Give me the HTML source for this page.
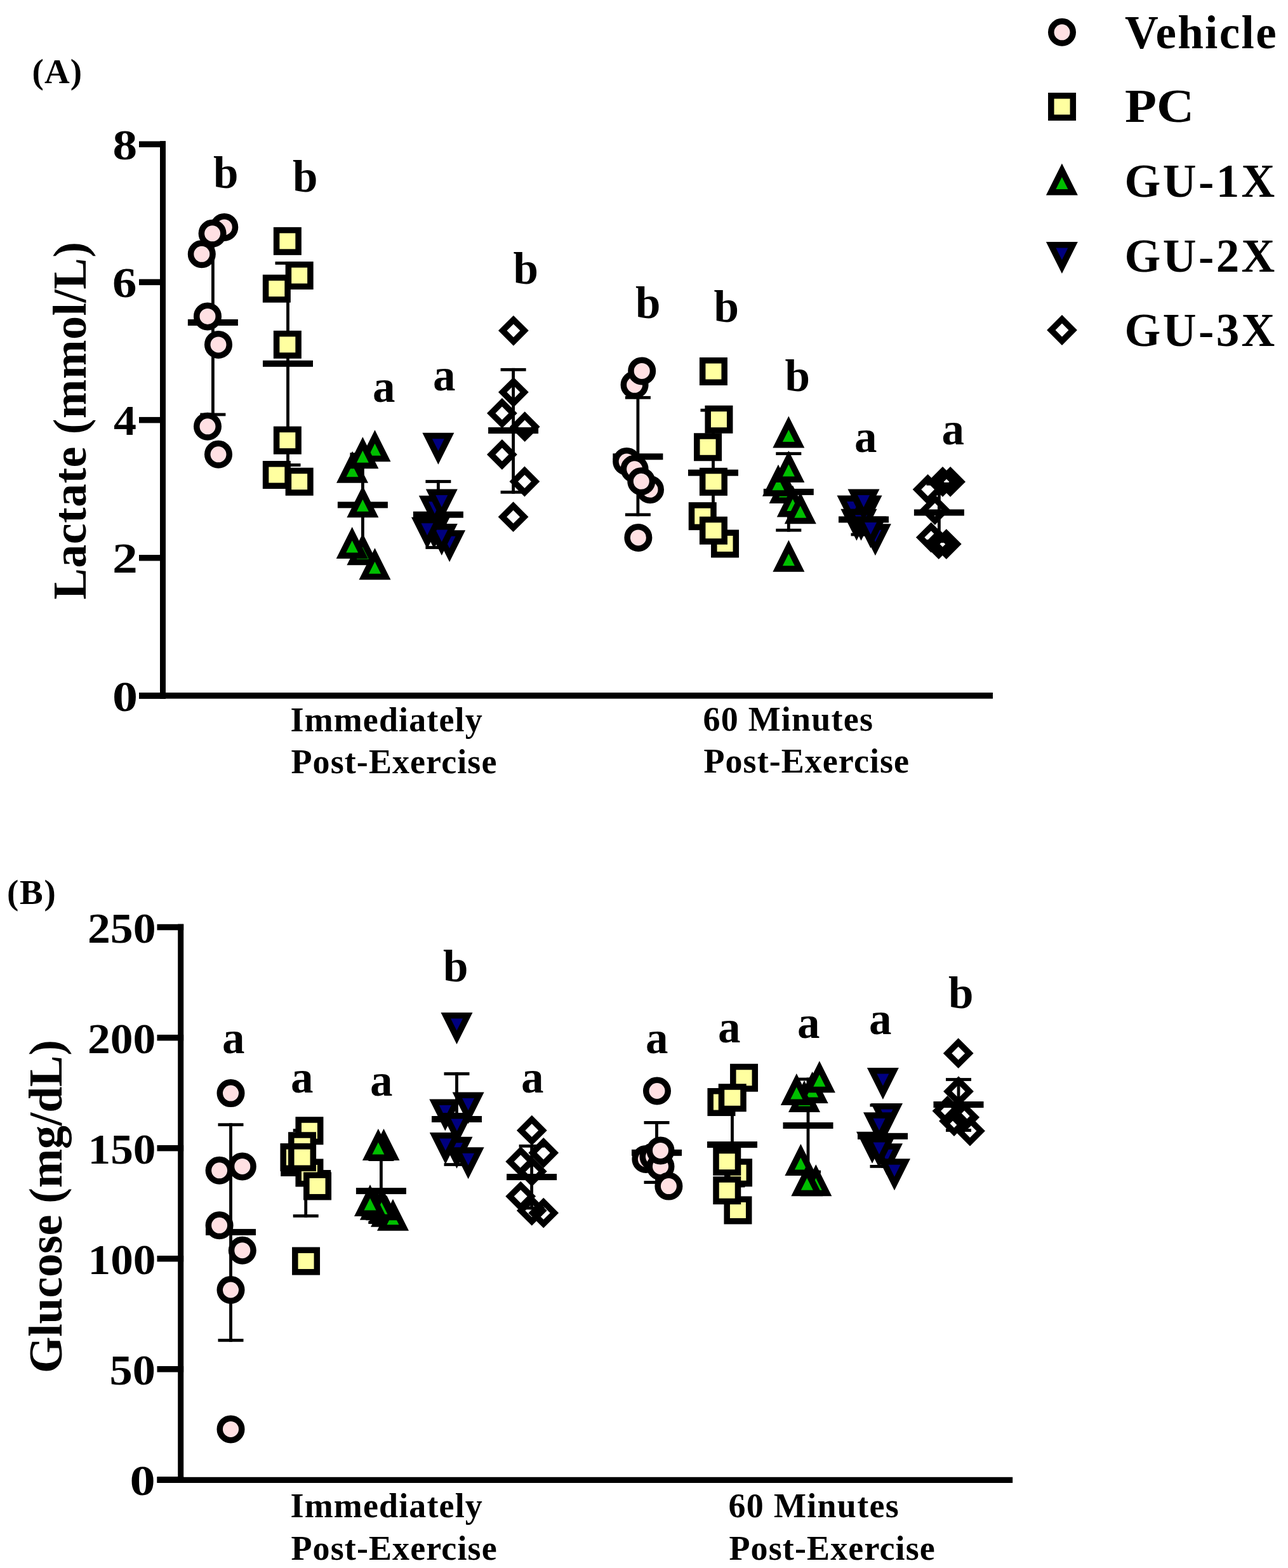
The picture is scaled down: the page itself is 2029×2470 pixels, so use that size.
<!DOCTYPE html>
<html><head><meta charset="utf-8"><title>Lactate and Glucose</title>
<style>
html,body{margin:0;padding:0;background:#fff;}
svg{display:block;}
text{font-family:"Liberation Serif","Times New Roman",serif;font-weight:bold;fill:#000;}
</style></head><body>
<svg width="2029" height="2470" viewBox="0 0 2029 2470">
<rect width="2029" height="2470" fill="#fff"/>
<rect x="252.0" y="222.2" width="9.0" height="878.6" fill="#000"/>
<rect x="219.0" y="222.5" width="42.0" height="9.5" fill="#000"/>
<rect x="219.0" y="439.7" width="42.0" height="9.5" fill="#000"/>
<rect x="219.0" y="656.9" width="42.0" height="9.5" fill="#000"/>
<rect x="219.0" y="874.0" width="42.0" height="9.5" fill="#000"/>
<rect x="219.0" y="1091.2" width="42.0" height="9.5" fill="#000"/>
<rect x="219.0" y="1091.0" width="1345.0" height="9.6" fill="#000"/>
<rect x="280.2" y="1455.6" width="9.0" height="880.4" fill="#000"/>
<rect x="247.5" y="1455.8" width="41.7" height="9.5" fill="#000"/>
<rect x="247.5" y="1629.9" width="41.7" height="9.5" fill="#000"/>
<rect x="247.5" y="1803.9" width="41.7" height="9.5" fill="#000"/>
<rect x="247.5" y="1978.0" width="41.7" height="9.5" fill="#000"/>
<rect x="247.5" y="2152.0" width="41.7" height="9.5" fill="#000"/>
<rect x="247.5" y="2326.1" width="41.7" height="9.5" fill="#000"/>
<rect x="247.5" y="2326.8" width="1347.7" height="9.2" fill="#000"/>
<rect x="333.0" y="360.6" width="4.8" height="294.8" fill="#000"/>
<rect x="315.4" y="360.6" width="40.0" height="4.8" fill="#000"/>
<rect x="315.4" y="650.6" width="40.0" height="4.8" fill="#000"/>
<rect x="295.9" y="503.0" width="79.0" height="10.0" fill="#000"/>
<circle cx="353.3" cy="357.9" r="17.25" fill="#FFE0E3" stroke="#000" stroke-width="9.5"/>
<circle cx="334.6" cy="367.8" r="17.25" fill="#FFE0E3" stroke="#000" stroke-width="9.5"/>
<circle cx="317.8" cy="400.3" r="17.25" fill="#FFE0E3" stroke="#000" stroke-width="9.5"/>
<circle cx="327.0" cy="498.4" r="17.25" fill="#FFE0E3" stroke="#000" stroke-width="9.5"/>
<circle cx="344.0" cy="542.9" r="17.25" fill="#FFE0E3" stroke="#000" stroke-width="9.5"/>
<circle cx="327.0" cy="671.8" r="17.25" fill="#FFE0E3" stroke="#000" stroke-width="9.5"/>
<circle cx="344.0" cy="715.8" r="17.25" fill="#FFE0E3" stroke="#000" stroke-width="9.5"/>
<rect x="451.1" y="412.1" width="4.8" height="322.8" fill="#000"/>
<rect x="433.5" y="412.1" width="40.0" height="4.8" fill="#000"/>
<rect x="433.5" y="730.1" width="40.0" height="4.8" fill="#000"/>
<rect x="414.0" y="567.8" width="79.0" height="10.0" fill="#000"/>
<rect x="435.6" y="362.6" width="34.5" height="34.5" fill="#FFFFA0" stroke="#000" stroke-width="9.5"/>
<rect x="454.4" y="416.8" width="34.5" height="34.5" fill="#FFFFA0" stroke="#000" stroke-width="9.5"/>
<rect x="418.6" y="437.4" width="34.5" height="34.5" fill="#FFFFA0" stroke="#000" stroke-width="9.5"/>
<rect x="435.6" y="525.6" width="34.5" height="34.5" fill="#FFFFA0" stroke="#000" stroke-width="9.5"/>
<rect x="435.6" y="676.4" width="34.5" height="34.5" fill="#FFFFA0" stroke="#000" stroke-width="9.5"/>
<rect x="418.6" y="730.8" width="34.5" height="34.5" fill="#FFFFA0" stroke="#000" stroke-width="9.5"/>
<rect x="454.4" y="741.5" width="34.5" height="34.5" fill="#FFFFA0" stroke="#000" stroke-width="9.5"/>
<rect x="569.0" y="713.2" width="4.8" height="164.6" fill="#000"/>
<rect x="551.4" y="713.2" width="40.0" height="4.8" fill="#000"/>
<rect x="551.4" y="873.0" width="40.0" height="4.8" fill="#000"/>
<rect x="531.9" y="790.4" width="79.0" height="10.0" fill="#000"/>
<polygon points="571.4,840.3 596.4,890.3 546.4,890.3" fill="#000"/><polygon points="571.4,861.8 580.9,880.8 561.9,880.8" fill="#00BF00"/>
<polygon points="590.5,677.2 615.5,727.2 565.5,727.2" fill="#000"/><polygon points="590.5,698.7 600.0,717.7 581.0,717.7" fill="#00BF00"/>
<polygon points="555.0,710.8 580.0,760.8 530.0,760.8" fill="#000"/><polygon points="555.0,732.3 564.5,751.3 545.5,751.3" fill="#00BF00"/>
<polygon points="571.4,688.2 596.4,738.2 546.4,738.2" fill="#000"/><polygon points="571.4,709.7 580.9,728.7 561.9,728.7" fill="#00BF00"/>
<polygon points="571.4,765.3 596.4,815.3 546.4,815.3" fill="#000"/><polygon points="571.4,786.8 580.9,805.8 561.9,805.8" fill="#00BF00"/>
<polygon points="554.7,830.1 579.7,880.1 529.7,880.1" fill="#000"/><polygon points="554.7,851.6 564.2,870.6 545.2,870.6" fill="#00BF00"/>
<polygon points="590.5,863.3 615.5,913.3 565.5,913.3" fill="#000"/><polygon points="590.5,884.8 600.0,903.8 581.0,903.8" fill="#00BF00"/>
<rect x="688.0" y="756.1" width="4.8" height="108.8" fill="#000"/>
<rect x="670.4" y="756.1" width="40.0" height="4.8" fill="#000"/>
<rect x="670.4" y="860.1" width="40.0" height="4.8" fill="#000"/>
<rect x="650.9" y="805.7" width="79.0" height="10.0" fill="#000"/>
<polygon points="665.4,681.8 715.4,681.8 690.4,731.8" fill="#000"/><polygon points="680.9,691.3 699.9,691.3 690.4,710.3" fill="#000080"/>
<polygon points="659.8,780.7 709.8,780.7 684.8,830.7" fill="#000"/><polygon points="675.3,790.2 694.3,790.2 684.8,809.2" fill="#000080"/>
<polygon points="670.8,770.5 720.8,770.5 695.8,820.5" fill="#000"/><polygon points="686.3,780.0 705.3,780.0 695.8,799.0" fill="#000080"/>
<polygon points="658.8,814.5 708.8,814.5 683.8,864.5" fill="#000"/><polygon points="674.2,824.0 693.2,824.0 683.8,843.0" fill="#000080"/>
<polygon points="683.1,835.2 733.1,835.2 708.1,885.2" fill="#000"/><polygon points="698.6,844.7 717.6,844.7 708.1,863.7" fill="#000080"/>
<polygon points="670.8,825.0 720.8,825.0 695.8,875.0" fill="#000"/><polygon points="686.3,834.5 705.3,834.5 695.8,853.5" fill="#000080"/>
<polygon points="648.0,814.8 698.0,814.8 673.0,864.8" fill="#000"/><polygon points="663.5,824.3 682.5,824.3 673.0,843.3" fill="#000080"/>
<rect x="806.2" y="579.9" width="4.8" height="197.8" fill="#000"/>
<rect x="788.6" y="579.9" width="40.0" height="4.8" fill="#000"/>
<rect x="788.6" y="772.9" width="40.0" height="4.8" fill="#000"/>
<rect x="769.1" y="673.1" width="79.0" height="10.0" fill="#000"/>
<path d="M808.9,496.9L832.8,520.8L808.9,544.7L785.0,520.8ZM808.9,510.4L798.5,520.8L808.9,531.2L819.3,520.8Z" fill="#000" fill-rule="evenodd"/>
<path d="M808.9,593.9L832.8,617.8L808.9,641.7L785.0,617.8ZM808.9,607.4L798.5,617.8L808.9,628.2L819.3,617.8Z" fill="#000" fill-rule="evenodd"/>
<path d="M790.9,627.0L814.8,650.9L790.9,674.8L767.0,650.9ZM790.9,640.5L780.5,650.9L790.9,661.3L801.3,650.9Z" fill="#000" fill-rule="evenodd"/>
<path d="M826.7,648.3L850.6,672.2L826.7,696.1L802.8,672.2ZM826.7,661.8L816.3,672.2L826.7,682.6L837.1,672.2Z" fill="#000" fill-rule="evenodd"/>
<path d="M790.9,692.1L814.8,716.0L790.9,739.9L767.0,716.0ZM790.9,705.6L780.5,716.0L790.9,726.4L801.3,716.0Z" fill="#000" fill-rule="evenodd"/>
<path d="M826.4,734.6L850.3,758.5L826.4,782.4L802.5,758.5ZM826.4,748.1L816.0,758.5L826.4,768.9L836.8,758.5Z" fill="#000" fill-rule="evenodd"/>
<path d="M808.6,790.3L832.5,814.2L808.6,838.1L784.7,814.2ZM808.6,803.8L798.2,814.2L808.6,824.6L819.0,814.2Z" fill="#000" fill-rule="evenodd"/>
<rect x="1002.5" y="623.9" width="4.8" height="189.3" fill="#000"/>
<rect x="984.9" y="623.9" width="40.0" height="4.8" fill="#000"/>
<rect x="984.9" y="808.4" width="40.0" height="4.8" fill="#000"/>
<rect x="965.4" y="714.3" width="79.0" height="10.0" fill="#000"/>
<circle cx="999.6" cy="606.3" r="17.25" fill="#FFE0E3" stroke="#000" stroke-width="9.5"/>
<circle cx="1011.2" cy="584.4" r="17.25" fill="#FFE0E3" stroke="#000" stroke-width="9.5"/>
<circle cx="987.2" cy="727.0" r="17.25" fill="#FFE0E3" stroke="#000" stroke-width="9.5"/>
<circle cx="999.6" cy="738.8" r="17.25" fill="#FFE0E3" stroke="#000" stroke-width="9.5"/>
<circle cx="1024.0" cy="771.3" r="17.25" fill="#FFE0E3" stroke="#000" stroke-width="9.5"/>
<circle cx="1010.3" cy="758.3" r="17.25" fill="#FFE0E3" stroke="#000" stroke-width="9.5"/>
<circle cx="1005.4" cy="846.9" r="17.25" fill="#FFE0E3" stroke="#000" stroke-width="9.5"/>
<rect x="1121.1" y="643.8" width="4.8" height="201.8" fill="#000"/>
<rect x="1103.5" y="643.8" width="40.0" height="4.8" fill="#000"/>
<rect x="1103.5" y="840.8" width="40.0" height="4.8" fill="#000"/>
<rect x="1084.0" y="739.7" width="79.0" height="10.0" fill="#000"/>
<rect x="1106.7" y="567.8" width="34.5" height="34.5" fill="#FFFFA0" stroke="#000" stroke-width="9.5"/>
<rect x="1115.2" y="643.5" width="34.5" height="34.5" fill="#FFFFA0" stroke="#000" stroke-width="9.5"/>
<rect x="1097.8" y="687.0" width="34.5" height="34.5" fill="#FFFFA0" stroke="#000" stroke-width="9.5"/>
<rect x="1106.7" y="741.6" width="34.5" height="34.5" fill="#FFFFA0" stroke="#000" stroke-width="9.5"/>
<rect x="1089.5" y="795.9" width="34.5" height="34.5" fill="#FFFFA0" stroke="#000" stroke-width="9.5"/>
<rect x="1124.8" y="839.2" width="34.5" height="34.5" fill="#FFFFA0" stroke="#000" stroke-width="9.5"/>
<rect x="1106.7" y="818.5" width="34.5" height="34.5" fill="#FFFFA0" stroke="#000" stroke-width="9.5"/>
<rect x="1239.9" y="712.2" width="4.8" height="125.4" fill="#000"/>
<rect x="1222.3" y="712.2" width="40.0" height="4.8" fill="#000"/>
<rect x="1222.3" y="832.8" width="40.0" height="4.8" fill="#000"/>
<rect x="1202.8" y="769.9" width="79.0" height="10.0" fill="#000"/>
<polygon points="1242.3,655.4 1267.3,705.4 1217.3,705.4" fill="#000"/><polygon points="1242.3,676.9 1251.8,695.9 1232.8,695.9" fill="#00BF00"/>
<polygon points="1236.6,743.0 1261.6,793.0 1211.6,793.0" fill="#000"/><polygon points="1236.6,764.5 1246.1,783.5 1227.1,783.5" fill="#00BF00"/>
<polygon points="1226.0,731.7 1251.0,781.7 1201.0,781.7" fill="#000"/><polygon points="1226.0,753.2 1235.5,772.2 1216.5,772.2" fill="#00BF00"/>
<polygon points="1242.4,710.0 1267.4,760.0 1217.4,760.0" fill="#000"/><polygon points="1242.4,731.5 1251.9,750.5 1232.9,750.5" fill="#00BF00"/>
<polygon points="1248.8,764.4 1273.8,814.4 1223.8,814.4" fill="#000"/><polygon points="1248.8,785.9 1258.3,804.9 1239.3,804.9" fill="#00BF00"/>
<polygon points="1260.8,775.3 1285.8,825.3 1235.8,825.3" fill="#000"/><polygon points="1260.8,796.8 1270.3,815.8 1251.3,815.8" fill="#00BF00"/>
<polygon points="1242.4,850.7 1267.4,900.7 1217.4,900.7" fill="#000"/><polygon points="1242.4,872.2 1251.9,891.2 1232.9,891.2" fill="#00BF00"/>
<rect x="1358.1" y="792.6" width="4.8" height="51.8" fill="#000"/>
<rect x="1340.5" y="792.6" width="40.0" height="4.8" fill="#000"/>
<rect x="1340.5" y="839.6" width="40.0" height="4.8" fill="#000"/>
<rect x="1321.0" y="813.4" width="79.0" height="10.0" fill="#000"/>
<polygon points="1353.9,825.2 1403.9,825.2 1378.9,875.2" fill="#000"/><polygon points="1369.4,834.7 1388.4,834.7 1378.9,853.7" fill="#000080"/>
<polygon points="1318.5,780.5 1368.5,780.5 1343.5,830.5" fill="#000"/><polygon points="1334.0,790.0 1353.0,790.0 1343.5,809.0" fill="#000080"/>
<polygon points="1339.5,780.5 1389.5,780.5 1364.5,830.5" fill="#000"/><polygon points="1355.0,790.0 1374.0,790.0 1364.5,809.0" fill="#000080"/>
<polygon points="1324.4,801.7 1374.4,801.7 1349.4,851.7" fill="#000"/><polygon points="1339.9,811.2 1358.9,811.2 1349.4,830.2" fill="#000080"/>
<polygon points="1331.5,801.7 1381.5,801.7 1356.5,851.7" fill="#000"/><polygon points="1347.0,811.2 1366.0,811.2 1356.5,830.2" fill="#000080"/>
<polygon points="1346.5,813.4 1396.5,813.4 1371.5,863.4" fill="#000"/><polygon points="1362.0,822.9 1381.0,822.9 1371.5,841.9" fill="#000080"/>
<polygon points="1335.5,770.5 1385.5,770.5 1360.5,820.5" fill="#000"/><polygon points="1351.0,780.0 1370.0,780.0 1360.5,799.0" fill="#000080"/>
<rect x="1477.0" y="759.9" width="4.8" height="95.1" fill="#000"/>
<rect x="1459.4" y="759.9" width="40.0" height="4.8" fill="#000"/>
<rect x="1459.4" y="850.2" width="40.0" height="4.8" fill="#000"/>
<rect x="1439.9" y="802.4" width="79.0" height="10.0" fill="#000"/>
<path d="M1485.0,735.0L1508.9,758.9L1485.0,782.8L1461.1,758.9ZM1485.0,748.5L1474.6,758.9L1485.0,769.3L1495.4,758.9Z" fill="#000" fill-rule="evenodd"/>
<path d="M1497.1,735.0L1521.0,758.9L1497.1,782.8L1473.2,758.9ZM1497.1,748.5L1486.7,758.9L1497.1,769.3L1507.5,758.9Z" fill="#000" fill-rule="evenodd"/>
<path d="M1461.6,747.1L1485.5,771.0L1461.6,794.9L1437.7,771.0ZM1461.6,760.6L1451.2,771.0L1461.6,781.4L1472.0,771.0Z" fill="#000" fill-rule="evenodd"/>
<path d="M1472.8,779.1L1496.7,803.0L1472.8,826.9L1448.9,803.0ZM1472.8,792.6L1462.4,803.0L1472.8,813.4L1483.2,803.0Z" fill="#000" fill-rule="evenodd"/>
<path d="M1466.8,822.7L1490.7,846.6L1466.8,870.5L1442.9,846.6ZM1466.8,836.2L1456.4,846.6L1466.8,857.0L1477.2,846.6Z" fill="#000" fill-rule="evenodd"/>
<path d="M1478.8,833.3L1502.7,857.2L1478.8,881.1L1454.9,857.2ZM1478.8,846.8L1468.4,857.2L1478.8,867.6L1489.2,857.2Z" fill="#000" fill-rule="evenodd"/>
<path d="M1490.8,833.2L1514.7,857.1L1490.8,881.0L1466.9,857.1ZM1490.8,846.7L1480.4,857.1L1490.8,867.5L1501.2,857.1Z" fill="#000" fill-rule="evenodd"/>
<rect x="361.1" y="1769.3" width="4.8" height="344.4" fill="#000"/>
<rect x="343.5" y="1769.3" width="40.0" height="4.8" fill="#000"/>
<rect x="343.5" y="2108.9" width="40.0" height="4.8" fill="#000"/>
<rect x="324.0" y="1935.9" width="79.0" height="10.0" fill="#000"/>
<circle cx="363.5" cy="1722.1" r="17.25" fill="#FFE0E3" stroke="#000" stroke-width="9.5"/>
<circle cx="345.6" cy="1843.8" r="17.25" fill="#FFE0E3" stroke="#000" stroke-width="9.5"/>
<circle cx="381.8" cy="1837.4" r="17.25" fill="#FFE0E3" stroke="#000" stroke-width="9.5"/>
<circle cx="345.6" cy="1930.3" r="17.25" fill="#FFE0E3" stroke="#000" stroke-width="9.5"/>
<circle cx="381.8" cy="1969.7" r="17.25" fill="#FFE0E3" stroke="#000" stroke-width="9.5"/>
<circle cx="363.5" cy="2032.0" r="17.25" fill="#FFE0E3" stroke="#000" stroke-width="9.5"/>
<circle cx="363.5" cy="2251.4" r="17.25" fill="#FFE0E3" stroke="#000" stroke-width="9.5"/>
<rect x="479.3" y="1778.2" width="4.8" height="139.6" fill="#000"/>
<rect x="461.7" y="1778.2" width="40.0" height="4.8" fill="#000"/>
<rect x="461.7" y="1913.0" width="40.0" height="4.8" fill="#000"/>
<rect x="442.2" y="1843.0" width="79.0" height="10.0" fill="#000"/>
<rect x="470.2" y="1764.0" width="34.5" height="34.5" fill="#FFFFA0" stroke="#000" stroke-width="9.5"/>
<rect x="458.8" y="1788.0" width="34.5" height="34.5" fill="#FFFFA0" stroke="#000" stroke-width="9.5"/>
<rect x="446.2" y="1805.8" width="34.5" height="34.5" fill="#FFFFA0" stroke="#000" stroke-width="9.5"/>
<rect x="470.2" y="1830.2" width="34.5" height="34.5" fill="#FFFFA0" stroke="#000" stroke-width="9.5"/>
<rect x="458.8" y="1805.8" width="34.5" height="34.5" fill="#FFFFA0" stroke="#000" stroke-width="9.5"/>
<rect x="482.8" y="1851.2" width="34.5" height="34.5" fill="#FFFFA0" stroke="#000" stroke-width="9.5"/>
<rect x="464.8" y="1969.3" width="34.5" height="34.5" fill="#FFFFA0" stroke="#000" stroke-width="9.5"/>
<rect x="598.0" y="1824.2" width="4.8" height="103.8" fill="#000"/>
<rect x="580.4" y="1824.2" width="40.0" height="4.8" fill="#000"/>
<rect x="580.4" y="1923.2" width="40.0" height="4.8" fill="#000"/>
<rect x="560.9" y="1871.1" width="79.0" height="10.0" fill="#000"/>
<polygon points="604.5,1778.0 629.5,1828.0 579.5,1828.0" fill="#000"/><polygon points="604.5,1799.5 614.0,1818.5 595.0,1818.5" fill="#00BF00"/>
<polygon points="595.9,1778.0 620.9,1828.0 570.9,1828.0" fill="#000"/><polygon points="595.9,1799.5 605.4,1818.5 586.4,1818.5" fill="#00BF00"/>
<polygon points="609.0,1882.8 634.0,1932.8 584.0,1932.8" fill="#000"/><polygon points="609.0,1904.3 618.5,1923.3 599.5,1923.3" fill="#00BF00"/>
<polygon points="605.1,1876.9 630.1,1926.9 580.1,1926.9" fill="#000"/><polygon points="605.1,1898.4 614.6,1917.4 595.6,1917.4" fill="#00BF00"/>
<polygon points="619.0,1888.8 644.0,1938.8 594.0,1938.8" fill="#000"/><polygon points="619.0,1910.3 628.5,1929.3 609.5,1929.3" fill="#00BF00"/>
<polygon points="591.9,1871.7 616.9,1921.7 566.9,1921.7" fill="#000"/><polygon points="591.9,1893.2 601.4,1912.2 582.4,1912.2" fill="#00BF00"/>
<polygon points="601.0,1872.3 626.0,1922.3 576.0,1922.3" fill="#000"/><polygon points="601.0,1893.8 610.5,1912.8 591.5,1912.8" fill="#00BF00"/>
<polygon points="583.0,1866.0 608.0,1916.0 558.0,1916.0" fill="#000"/><polygon points="583.0,1887.5 592.5,1906.5 573.5,1906.5" fill="#00BF00"/>
<rect x="717.1" y="1689.1" width="4.8" height="147.8" fill="#000"/>
<rect x="699.5" y="1689.1" width="40.0" height="4.8" fill="#000"/>
<rect x="699.5" y="1832.1" width="40.0" height="4.8" fill="#000"/>
<rect x="680.0" y="1758.0" width="79.0" height="10.0" fill="#000"/>
<polygon points="694.5,1595.1 744.5,1595.1 719.5,1645.1" fill="#000"/><polygon points="710.0,1604.6 729.0,1604.6 719.5,1623.6" fill="#000080"/>
<polygon points="712.6,1720.6 762.6,1720.6 737.6,1770.6" fill="#000"/><polygon points="728.1,1730.1 747.1,1730.1 737.6,1749.1" fill="#000080"/>
<polygon points="676.3,1731.5 726.3,1731.5 701.3,1781.5" fill="#000"/><polygon points="691.8,1741.0 710.8,1741.0 701.3,1760.0" fill="#000080"/>
<polygon points="694.9,1753.0 744.9,1753.0 719.9,1803.0" fill="#000"/><polygon points="710.4,1762.5 729.4,1762.5 719.9,1781.5" fill="#000080"/>
<polygon points="694.5,1790.7 744.5,1790.7 719.5,1840.7" fill="#000"/><polygon points="710.0,1800.2 729.0,1800.2 719.5,1819.2" fill="#000080"/>
<polygon points="676.8,1784.0 726.8,1784.0 701.8,1834.0" fill="#000"/><polygon points="692.3,1793.5 711.3,1793.5 701.8,1812.5" fill="#000080"/>
<polygon points="712.6,1807.2 762.6,1807.2 737.6,1857.2" fill="#000"/><polygon points="728.1,1816.7 747.1,1816.7 737.6,1835.7" fill="#000080"/>
<rect x="835.2" y="1802.9" width="4.8" height="102.5" fill="#000"/>
<rect x="817.6" y="1802.9" width="40.0" height="4.8" fill="#000"/>
<rect x="817.6" y="1900.6" width="40.0" height="4.8" fill="#000"/>
<rect x="798.1" y="1849.1" width="79.0" height="10.0" fill="#000"/>
<path d="M837.8,1756.8L861.7,1780.7L837.8,1804.6L813.9,1780.7ZM837.8,1770.3L827.4,1780.7L837.8,1791.1L848.2,1780.7Z" fill="#000" fill-rule="evenodd"/>
<path d="M856.2,1792.1L880.1,1816.0L856.2,1839.9L832.3,1816.0ZM856.2,1805.6L845.8,1816.0L856.2,1826.4L866.6,1816.0Z" fill="#000" fill-rule="evenodd"/>
<path d="M820.2,1805.8L844.1,1829.7L820.2,1853.6L796.3,1829.7ZM820.2,1819.3L809.8,1829.7L820.2,1840.1L830.6,1829.7Z" fill="#000" fill-rule="evenodd"/>
<path d="M837.8,1821.4L861.7,1845.3L837.8,1869.2L813.9,1845.3ZM837.8,1834.9L827.4,1845.3L837.8,1855.7L848.2,1845.3Z" fill="#000" fill-rule="evenodd"/>
<path d="M820.2,1860.7L844.1,1884.6L820.2,1908.5L796.3,1884.6ZM820.2,1874.2L809.8,1884.6L820.2,1895.0L830.6,1884.6Z" fill="#000" fill-rule="evenodd"/>
<path d="M837.8,1883.0L861.7,1906.9L837.8,1930.8L813.9,1906.9ZM837.8,1896.5L827.4,1906.9L837.8,1917.3L848.2,1906.9Z" fill="#000" fill-rule="evenodd"/>
<path d="M856.2,1886.8L880.1,1910.7L856.2,1934.6L832.3,1910.7ZM856.2,1900.3L845.8,1910.7L856.2,1921.1L866.6,1910.7Z" fill="#000" fill-rule="evenodd"/>
<rect x="1032.1" y="1766.0" width="4.8" height="98.9" fill="#000"/>
<rect x="1014.5" y="1766.0" width="40.0" height="4.8" fill="#000"/>
<rect x="1014.5" y="1860.1" width="40.0" height="4.8" fill="#000"/>
<rect x="995.0" y="1810.8" width="79.0" height="10.0" fill="#000"/>
<circle cx="1035.0" cy="1718.5" r="17.25" fill="#FFE0E3" stroke="#000" stroke-width="9.5"/>
<circle cx="1017.4" cy="1826.0" r="17.25" fill="#FFE0E3" stroke="#000" stroke-width="9.5"/>
<circle cx="1029.5" cy="1822.0" r="17.25" fill="#FFE0E3" stroke="#000" stroke-width="9.5"/>
<circle cx="1040.5" cy="1837.5" r="17.25" fill="#FFE0E3" stroke="#000" stroke-width="9.5"/>
<circle cx="1040.5" cy="1812.4" r="17.25" fill="#FFE0E3" stroke="#000" stroke-width="9.5"/>
<circle cx="1053.4" cy="1868.6" r="17.25" fill="#FFE0E3" stroke="#000" stroke-width="9.5"/>
<rect x="1151.1" y="1735.6" width="4.8" height="134.8" fill="#000"/>
<rect x="1133.5" y="1735.6" width="40.0" height="4.8" fill="#000"/>
<rect x="1133.5" y="1865.6" width="40.0" height="4.8" fill="#000"/>
<rect x="1114.0" y="1798.1" width="79.0" height="10.0" fill="#000"/>
<rect x="1154.8" y="1680.5" width="34.5" height="34.5" fill="#FFFFA0" stroke="#000" stroke-width="9.5"/>
<rect x="1119.2" y="1718.8" width="34.5" height="34.5" fill="#FFFFA0" stroke="#000" stroke-width="9.5"/>
<rect x="1136.5" y="1712.0" width="34.5" height="34.5" fill="#FFFFA0" stroke="#000" stroke-width="9.5"/>
<rect x="1145.8" y="1830.0" width="34.5" height="34.5" fill="#FFFFA0" stroke="#000" stroke-width="9.5"/>
<rect x="1145.2" y="1889.2" width="34.5" height="34.5" fill="#FFFFA0" stroke="#000" stroke-width="9.5"/>
<rect x="1128.0" y="1812.5" width="34.5" height="34.5" fill="#FFFFA0" stroke="#000" stroke-width="9.5"/>
<rect x="1128.0" y="1858.0" width="34.5" height="34.5" fill="#FFFFA0" stroke="#000" stroke-width="9.5"/>
<rect x="1270.6" y="1697.6" width="4.8" height="150.8" fill="#000"/>
<rect x="1253.0" y="1697.6" width="40.0" height="4.8" fill="#000"/>
<rect x="1253.0" y="1843.6" width="40.0" height="4.8" fill="#000"/>
<rect x="1233.5" y="1768.0" width="79.0" height="10.0" fill="#000"/>
<polygon points="1267.0,1702.0 1292.0,1752.0 1242.0,1752.0" fill="#000"/><polygon points="1267.0,1723.5 1276.5,1742.5 1257.5,1742.5" fill="#00BF00"/>
<polygon points="1279.6,1688.0 1304.6,1738.0 1254.6,1738.0" fill="#000"/><polygon points="1279.6,1709.5 1289.1,1728.5 1270.1,1728.5" fill="#00BF00"/>
<polygon points="1254.8,1691.0 1279.8,1741.0 1229.8,1741.0" fill="#000"/><polygon points="1254.8,1712.5 1264.3,1731.5 1245.3,1731.5" fill="#00BF00"/>
<polygon points="1290.9,1671.2 1315.9,1721.2 1265.9,1721.2" fill="#000"/><polygon points="1290.9,1692.7 1300.4,1711.7 1281.4,1711.7" fill="#00BF00"/>
<polygon points="1261.4,1801.9 1286.4,1851.9 1236.4,1851.9" fill="#000"/><polygon points="1261.4,1823.4 1270.9,1842.4 1251.9,1842.4" fill="#00BF00"/>
<polygon points="1285.3,1834.3 1310.3,1884.3 1260.3,1884.3" fill="#000"/><polygon points="1285.3,1855.8 1294.8,1874.8 1275.8,1874.8" fill="#00BF00"/>
<polygon points="1271.3,1834.3 1296.3,1884.3 1246.3,1884.3" fill="#000"/><polygon points="1271.3,1855.8 1280.8,1874.8 1261.8,1874.8" fill="#00BF00"/>
<rect x="1388.1" y="1738.6" width="4.8" height="101.2" fill="#000"/>
<rect x="1370.5" y="1738.6" width="40.0" height="4.8" fill="#000"/>
<rect x="1370.5" y="1835.0" width="40.0" height="4.8" fill="#000"/>
<rect x="1351.0" y="1784.8" width="79.0" height="10.0" fill="#000"/>
<polygon points="1365.9,1682.1 1415.9,1682.1 1390.9,1732.1" fill="#000"/><polygon points="1381.4,1691.6 1400.4,1691.6 1390.9,1710.6" fill="#000080"/>
<polygon points="1372.0,1738.1 1422.0,1738.1 1397.0,1788.1" fill="#000"/><polygon points="1387.5,1747.6 1406.5,1747.6 1397.0,1766.6" fill="#000080"/>
<polygon points="1360.0,1752.2 1410.0,1752.2 1385.0,1802.2" fill="#000"/><polygon points="1375.5,1761.7 1394.5,1761.7 1385.0,1780.7" fill="#000080"/>
<polygon points="1349.0,1782.8 1399.0,1782.8 1374.0,1832.8" fill="#000"/><polygon points="1364.5,1792.3 1383.5,1792.3 1374.0,1811.3" fill="#000080"/>
<polygon points="1372.0,1801.3 1422.0,1801.3 1397.0,1851.3" fill="#000"/><polygon points="1387.5,1810.8 1406.5,1810.8 1397.0,1829.8" fill="#000080"/>
<polygon points="1360.0,1790.0 1410.0,1790.0 1385.0,1840.0" fill="#000"/><polygon points="1375.5,1799.5 1394.5,1799.5 1385.0,1818.5" fill="#000080"/>
<polygon points="1384.0,1825.2 1434.0,1825.2 1409.0,1875.2" fill="#000"/><polygon points="1399.5,1834.7 1418.5,1834.7 1409.0,1853.7" fill="#000080"/>
<rect x="1507.6" y="1698.1" width="4.8" height="84.8" fill="#000"/>
<rect x="1490.0" y="1698.1" width="40.0" height="4.8" fill="#000"/>
<rect x="1490.0" y="1778.1" width="40.0" height="4.8" fill="#000"/>
<rect x="1470.5" y="1735.0" width="79.0" height="10.0" fill="#000"/>
<path d="M1509.7,1635.3L1533.6,1659.2L1509.7,1683.1L1485.8,1659.2ZM1509.7,1648.8L1499.3,1659.2L1509.7,1669.6L1520.1,1659.2Z" fill="#000" fill-rule="evenodd"/>
<path d="M1510.0,1695.3L1533.9,1719.2L1510.0,1743.1L1486.1,1719.2ZM1510.0,1708.8L1499.6,1719.2L1510.0,1729.6L1520.4,1719.2Z" fill="#000" fill-rule="evenodd"/>
<path d="M1492.5,1726.1L1516.4,1750.0L1492.5,1773.9L1468.6,1750.0ZM1492.5,1739.6L1482.1,1750.0L1492.5,1760.4L1502.9,1750.0Z" fill="#000" fill-rule="evenodd"/>
<path d="M1519.2,1736.1L1543.1,1760.0L1519.2,1783.9L1495.3,1760.0ZM1519.2,1749.6L1508.8,1760.0L1519.2,1770.4L1529.6,1760.0Z" fill="#000" fill-rule="evenodd"/>
<path d="M1528.0,1757.7L1551.9,1781.6L1528.0,1805.5L1504.1,1781.6ZM1528.0,1771.2L1517.6,1781.6L1528.0,1792.0L1538.4,1781.6Z" fill="#000" fill-rule="evenodd"/>
<path d="M1503.0,1742.1L1526.9,1766.0L1503.0,1789.9L1479.1,1766.0ZM1503.0,1755.6L1492.6,1766.0L1503.0,1776.4L1513.4,1766.0Z" fill="#000" fill-rule="evenodd"/>
<circle cx="1673.0" cy="50.8" r="17.25" fill="#FFE0E3" stroke="#000" stroke-width="9.5"/>
<rect x="1655.8" y="150.8" width="34.5" height="34.5" fill="#FFFFA0" stroke="#000" stroke-width="9.5"/>
<polygon points="1672.9,257.6 1697.9,307.6 1647.9,307.6" fill="#000"/><polygon points="1672.9,279.1 1682.4,298.1 1663.4,298.1" fill="#00BF00"/>
<polygon points="1647.9,381.0 1697.9,381.0 1672.9,431.0" fill="#000"/><polygon points="1663.4,390.5 1682.4,390.5 1672.9,409.5" fill="#000080"/>
<path d="M1673.0,496.1L1696.9,520.0L1673.0,543.9L1649.1,520.0ZM1673.0,509.6L1662.6,520.0L1673.0,530.4L1683.4,520.0Z" fill="#000" fill-rule="evenodd"/>
<text id="leg1" x="1772.00" y="75.80" font-size="73.00" textLength="238.59" lengthAdjust="spacing">Vehicle</text>
<text id="leg2" x="1772.00" y="192.30" font-size="73.00" textLength="109.11" lengthAdjust="spacingAndGlyphs">PC</text>
<text id="leg3" x="1771.50" y="309.70" font-size="73.00" textLength="236.83" lengthAdjust="spacing">GU-1X</text>
<text id="leg4" x="1771.50" y="427.80" font-size="73.00" textLength="236.83" lengthAdjust="spacing">GU-2X</text>
<text id="leg5" x="1771.50" y="544.50" font-size="73.00" textLength="236.83" lengthAdjust="spacing">GU-3X</text>
<text id="A_xl1" x="457.50" y="1151.80" font-size="54.00" textLength="302.14" lengthAdjust="spacing">Immediately</text>
<text id="A_xl2" x="458.50" y="1217.80" font-size="54.00" textLength="323.91" lengthAdjust="spacing">Post-Exercise</text>
<text id="A_xl3" x="1107.50" y="1151.40" font-size="54.00" textLength="267.50" lengthAdjust="spacing">60 Minutes</text>
<text id="A_xl4" x="1108.50" y="1217.30" font-size="54.00" textLength="323.51" lengthAdjust="spacing">Post-Exercise</text>
<text id="B_xl1" x="457.50" y="2389.50" font-size="54.00" textLength="302.34" lengthAdjust="spacing">Immediately</text>
<text id="B_xl2" x="458.50" y="2456.50" font-size="54.00" textLength="324.11" lengthAdjust="spacing">Post-Exercise</text>
<text id="B_xl3" x="1147.50" y="2390.20" font-size="54.00" textLength="268.30" lengthAdjust="spacing">60 Minutes</text>
<text id="B_xl4" x="1148.50" y="2457.10" font-size="54.00" textLength="324.31" lengthAdjust="spacing">Post-Exercise</text>
<text id="A_lbl" x="50.50" y="130.70" font-size="55.00" textLength="78.56" lengthAdjust="spacing">(A)</text>
<text id="B_lbl" x="11.00" y="1423.70" font-size="55.00" textLength="76.93" lengthAdjust="spacing">(B)</text>
<text id="A_yt" x="135.20" y="944.50" font-size="74.00" textLength="563.29" lengthAdjust="spacing" transform="rotate(-90 135.20 944.50)">Lactate (mmol/L)</text>
<text id="B_yt" x="96.50" y="2163.00" font-size="74.00" textLength="524.87" lengthAdjust="spacing" transform="rotate(-90 96.50 2163.00)">Glucose (mg/dL)</text>
<text id="A_t8" x="177.50" y="251.44" font-size="68.00" textLength="38.60" lengthAdjust="spacingAndGlyphs">8</text>
<text id="A_t6" x="177.00" y="468.44" font-size="68.00" textLength="38.40" lengthAdjust="spacingAndGlyphs">6</text>
<text id="A_t4" x="179.00" y="685.44" font-size="68.00" textLength="36.00" lengthAdjust="spacingAndGlyphs">4</text>
<text id="A_t2" x="177.00" y="902.44" font-size="68.00" textLength="39.80" lengthAdjust="spacingAndGlyphs">2</text>
<text id="A_t0" x="177.00" y="1120.44" font-size="68.00" textLength="40.00" lengthAdjust="spacingAndGlyphs">0</text>
<text id="B_t250" x="138.00" y="1484.69" font-size="68.00" textLength="107.60" lengthAdjust="spacingAndGlyphs">250</text>
<text id="B_t200" x="138.00" y="1658.94" font-size="68.00" textLength="107.40" lengthAdjust="spacingAndGlyphs">200</text>
<text id="B_t150" x="138.50" y="1833.19" font-size="68.00" textLength="107.00" lengthAdjust="spacingAndGlyphs">150</text>
<text id="B_t100" x="138.50" y="2007.44" font-size="68.00" textLength="107.00" lengthAdjust="spacingAndGlyphs">100</text>
<text id="B_t50" x="172.50" y="2180.69" font-size="68.00" textLength="72.40" lengthAdjust="spacingAndGlyphs">50</text>
<text id="B_t0" x="204.50" y="2354.94" font-size="68.00" textLength="40.20" lengthAdjust="spacingAndGlyphs">0</text>
<text id="L0" x="336.00" y="296.28" font-size="71.00">b</text>
<text id="L1" x="461.00" y="302.28" font-size="71.00">b</text>
<text id="L2" x="587.00" y="632.78" font-size="71.00">a</text>
<text id="L3" x="682.00" y="615.28" font-size="71.00">a</text>
<text id="L4" x="808.50" y="447.28" font-size="71.00">b</text>
<text id="L5" x="1001.00" y="501.28" font-size="71.00">b</text>
<text id="L6" x="1124.50" y="507.28" font-size="71.00">b</text>
<text id="L7" x="1236.50" y="615.78" font-size="71.00">b</text>
<text id="L8" x="1346.00" y="711.78" font-size="71.00">a</text>
<text id="L9" x="1483.50" y="700.28" font-size="71.00">a</text>
<text id="L10" x="350.00" y="1659.28" font-size="71.00">a</text>
<text id="L11" x="458.00" y="1720.78" font-size="71.00">a</text>
<text id="L12" x="583.00" y="1726.28" font-size="71.00">a</text>
<text id="L13" x="698.00" y="1546.28" font-size="71.00">b</text>
<text id="L14" x="821.00" y="1721.28" font-size="71.00">a</text>
<text id="L15" x="1017.00" y="1659.28" font-size="71.00">a</text>
<text id="L16" x="1131.00" y="1641.78" font-size="71.00">a</text>
<text id="L17" x="1256.00" y="1635.28" font-size="71.00">a</text>
<text id="L18" x="1369.00" y="1629.28" font-size="71.00">a</text>
<text id="L19" x="1494.00" y="1588.28" font-size="71.00">b</text>
</svg>
</body></html>
